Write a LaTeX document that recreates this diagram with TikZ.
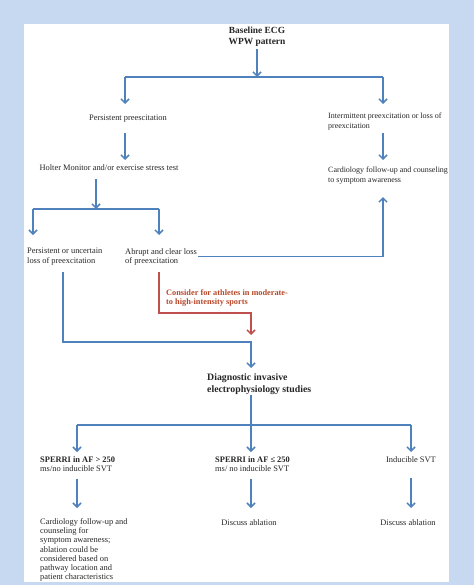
\documentclass[tikz,border=0pt]{standalone}
\usepackage{fontspec}
\setmainfont{Liberation Serif}
\usetikzlibrary{positioning, arrows.meta}
\definecolor{bgblue}{RGB}{198,217,240}
\definecolor{flowblue}{RGB}{79,129,189}
\definecolor{flowred}{RGB}{192,80,77}
\definecolor{redtxt}{RGB}{184,72,42}
\begin{document}
\begin{tikzpicture}[
    x=1pt, y=-1pt,
    flow/.style={draw=flowblue, line width=1.5pt},
    arr/.style={flow, -{Straight Barb[length=4pt,width=8pt]}},
    redarr/.style={arr, draw=flowred},
    txt/.style={inner sep=0pt, align=left, text=black!85,
                font=\fontsize{8.4}{9.3}\selectfont},
    hdr/.style={txt, font=\bfseries\fontsize{9.4}{11}\selectfont}
]
  % Frame
  \fill[bgblue] (0,0) rectangle (474,585);
  \fill[white] (24,24) rectangle (449,582);

  % Top
  \node[hdr, anchor=north, align=center] (base) at (257,26.5) {Baseline ECG\\WPW pattern};
  \coordinate (split) at (257,77);
  \coordinate (jL) at (125,77);
  \coordinate (jR) at (383,77);
  \draw[arr, shorten <=3pt] (base.south) -- (split);
  \draw[flow] (jL) -- (jR);

  % Left branch
  \node[txt, anchor=north] (pers) at (128,115) {Persistent preescitation};
  \node[txt, anchor=north] (holter) at (109,164) {Holter Monitor and/or exercise stress test};
  \draw[arr, shorten >=11pt] (jL) -- (jL |- pers.north);
  \draw[arr, shorten <=10pt, shorten >=4pt] (jL |- pers.south) -- (jL |- holter.north);

  % Right branch
  \node[txt, anchor=north west, font=\fontsize{8}{9.3}\selectfont] (interm) at (328,113) {Intermittent preexcitation or loss of\\preexcitation};
  \node[txt, anchor=north west, font=\fontsize{8}{9.3}\selectfont] (cardR) at (328,167) {Cardiology follow-up and counseling\\to symptom awareness};
  \draw[arr, shorten >=9pt] (jR) -- (jR |- interm.north);
  \draw[arr, shorten <=3pt, shorten >=7pt] (jR |- interm.south) -- (jR |- cardR.north);

  % Holter split
  \coordinate (split2) at (96,209);
  \coordinate (jL2) at (33,209);
  \coordinate (jR2) at (159,209);
  \node[txt, anchor=north west] (uncert) at (27,248) {Persistent or uncertain\\loss of preexcitation};
  \node[txt, anchor=north west] (abrupt) at (125,248) {Abrupt and clear loss\\of preexcitation};
  \draw[arr, shorten <=9pt] (split2 |- holter.south) -- (split2);
  \draw[flow] (jL2) -- (jR2);
  \draw[arr, shorten >=13pt] (jL2) -- (jL2 |- uncert.north);
  \draw[arr, shorten >=13pt] (jR2) -- (jR2 |- abrupt.north);
  \draw[arr, shorten <=1pt, shorten >=13pt] (abrupt.east) -| (jR |- cardR.south);

  % Athletes
  \coordinate (merge) at (251,342);
  \coordinate (redbend) at (251,313);
  \node[txt, anchor=north west, text=redtxt, font=\bfseries\fontsize{8.3}{9.3}\selectfont]
    (athl) at (166,289) {Consider for athletes in moderate-\\to high-intensity sports};
  \draw[redarr, shorten <=7pt, shorten >=7pt] (jR2 |- abrupt.south) |- (redbend) -- (merge);

  % EPS
  \node[hdr, anchor=north west, font=\bfseries\fontsize{9.8}{12}\selectfont]
    (diag) at (207,373) {Diagnostic invasive\\electrophysiology studies};
  \draw[arr, shorten <=7pt, shorten >=5pt] (63,0 |- uncert.south) |- (merge) -- (merge |- diag.north);

  % EPS split
  \coordinate (split3) at (251,425);
  \coordinate (jA) at (77,425);
  \coordinate (jC) at (411,425);
  \draw[flow, shorten <=1pt] (merge |- diag.south) -- (split3);
  \draw[flow] (jA) -- (jC);
  \node[txt, anchor=north west] (sperA) at (40,456) {\textbf{SPERRI in AF > 250}\\ms/no inducible SVT};
  \node[txt, anchor=north west] (sperB) at (215,456) {\textbf{SPERRI in AF ≤ 250}\\ms/ no inducible SVT};
  \node[txt, anchor=north] (induc) at (411,456) {Inducible SVT};
  \draw[arr, shorten >=4pt] (jA) -- (jA |- sperA.north);
  \draw[arr, shorten >=4pt] (split3) -- (split3 |- sperB.north);
  \draw[arr, shorten >=4pt] (jC) -- (jC |- induc.north);

  % Outcomes
  \node[txt, anchor=north west] (cardB) at (40,518) {Cardiology follow-up and\\counseling for\\symptom awareness;\\ablation could be\\considered based on\\pathway location and\\patient characteristics};
  \node[txt, anchor=north] (discB) at (249,519) {Discuss ablation};
  \node[txt, anchor=north] (discC) at (408,519) {Discuss ablation};
  \draw[arr, shorten <=7pt, shorten >=10pt] (jA |- sperA.south) -- (jA |- cardB.north);
  \draw[arr, shorten <=7pt, shorten >=11pt] (split3 |- sperB.south) -- (split3 |- discB.north);
  \draw[arr, shorten <=16pt, shorten >=11pt] (jC |- induc.south) -- (jC |- discC.north);
\end{tikzpicture}
\end{document}
